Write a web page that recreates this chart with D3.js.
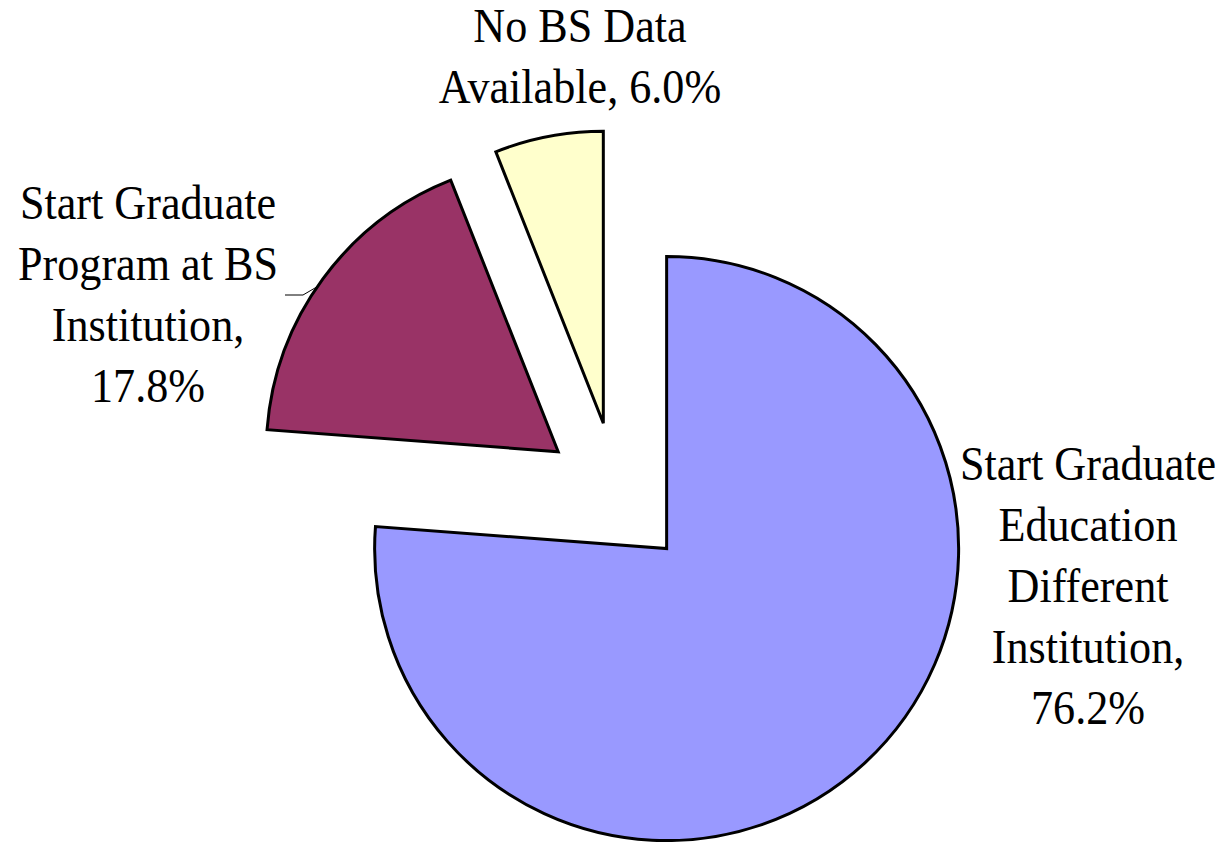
<!DOCTYPE html>
<html>
<head>
<meta charset="utf-8">
<script src="https://cdn.jsdelivr.net/npm/d3@7"></script>
<style>
  html, body { margin: 0; padding: 0; background: #ffffff; }
  svg { display: block; }
  text { font-family: "Liberation Serif", "Times New Roman", serif; fill: #000; }
</style>
</head>
<body>
<svg id="chart" width="1226" height="842"></svg>
<script>
// Share of students by where they begin graduate study
const categories = [
  "Start Graduate Education Different Institution",
  "Start Graduate Program at BS Institution",
  "No BS Data Available"
];
const shares = [76.2, 17.8, 6.0];
const sliceColors = ["#9999FF", "#993366", "#FFFFCC"];

// Label text, broken into the lines drawn beside each slice
const labelLines = [
  ["Start Graduate", "Education", "Different", "Institution,", "76.2%"],
  ["Start Graduate", "Program at BS", "Institution,", "17.8%"],
  ["No BS Data", "Available, 6.0%"]
];

// Layout
const W = 1226, H = 842;
const cx = 617, cy = 495;      // pie centre before slices are pulled out
const radius = 292;
const explode = 73;            // how far each slice is pulled from the centre
const fontSize = 48;
const lineHeight = 61;
const squeeze = 0.92;          // horizontal condensing of label glyphs
// first-line baseline position of each label block (centre-anchored)
const labelAnchors = [
  { x: 1088, y: 480 },
  { x: 148,  y: 219 },
  { x: 580,  y: 42 }
];

const svg = d3.select("#chart");

const pie = d3.pie().sort(null).value(d => d);
const arcs = pie(shares);
const arc = d3.arc().innerRadius(0).outerRadius(radius);

const g = svg.append("g").attr("transform", `translate(${cx},${cy})`);

g.selectAll("path.slice")
  .data(arcs)
  .join("path")
  .attr("class", "slice")
  .attr("transform", d => {
    const mid = (d.startAngle + d.endAngle) / 2;
    return `translate(${explode * Math.sin(mid)},${-explode * Math.cos(mid)})`;
  })
  .attr("d", arc)
  .attr("fill", (d, i) => sliceColors[i])
  .attr("stroke", "#000")
  .attr("stroke-width", 3)
  .attr("stroke-linejoin", "miter");

// leader line from the BS-institution label to its slice
{
  const d = arcs[1];
  const mid = (d.startAngle + d.endAngle) / 2;
  const ox = cx + explode * Math.sin(mid), oy = cy - explode * Math.cos(mid);
  const a = d.startAngle + (d.endAngle - d.startAngle) * 0.47;
  const tx = ox + radius * Math.sin(a), ty = oy - radius * Math.cos(a);
  svg.append("polyline")
    .attr("points", [[285, 295], [303, 295], [tx, ty]].map(p => p.join(",")).join(" "))
    .attr("fill", "none")
    .attr("stroke", "#000")
    .attr("stroke-width", 1);
}

// slice labels
labelLines.forEach((lines, i) => {
  const a = labelAnchors[i];
  const t = svg.append("g")
    .attr("transform", `translate(${a.x},${a.y}) scale(${squeeze},1)`)
    .append("text")
    .attr("text-anchor", "middle")
    .attr("font-size", fontSize)
    .attr("aria-label", categories[i]);
  lines.forEach((ln, k) => {
    t.append("tspan").attr("x", 0).attr("y", k * lineHeight).text(ln);
  });
});
</script>
</body>
</html>
